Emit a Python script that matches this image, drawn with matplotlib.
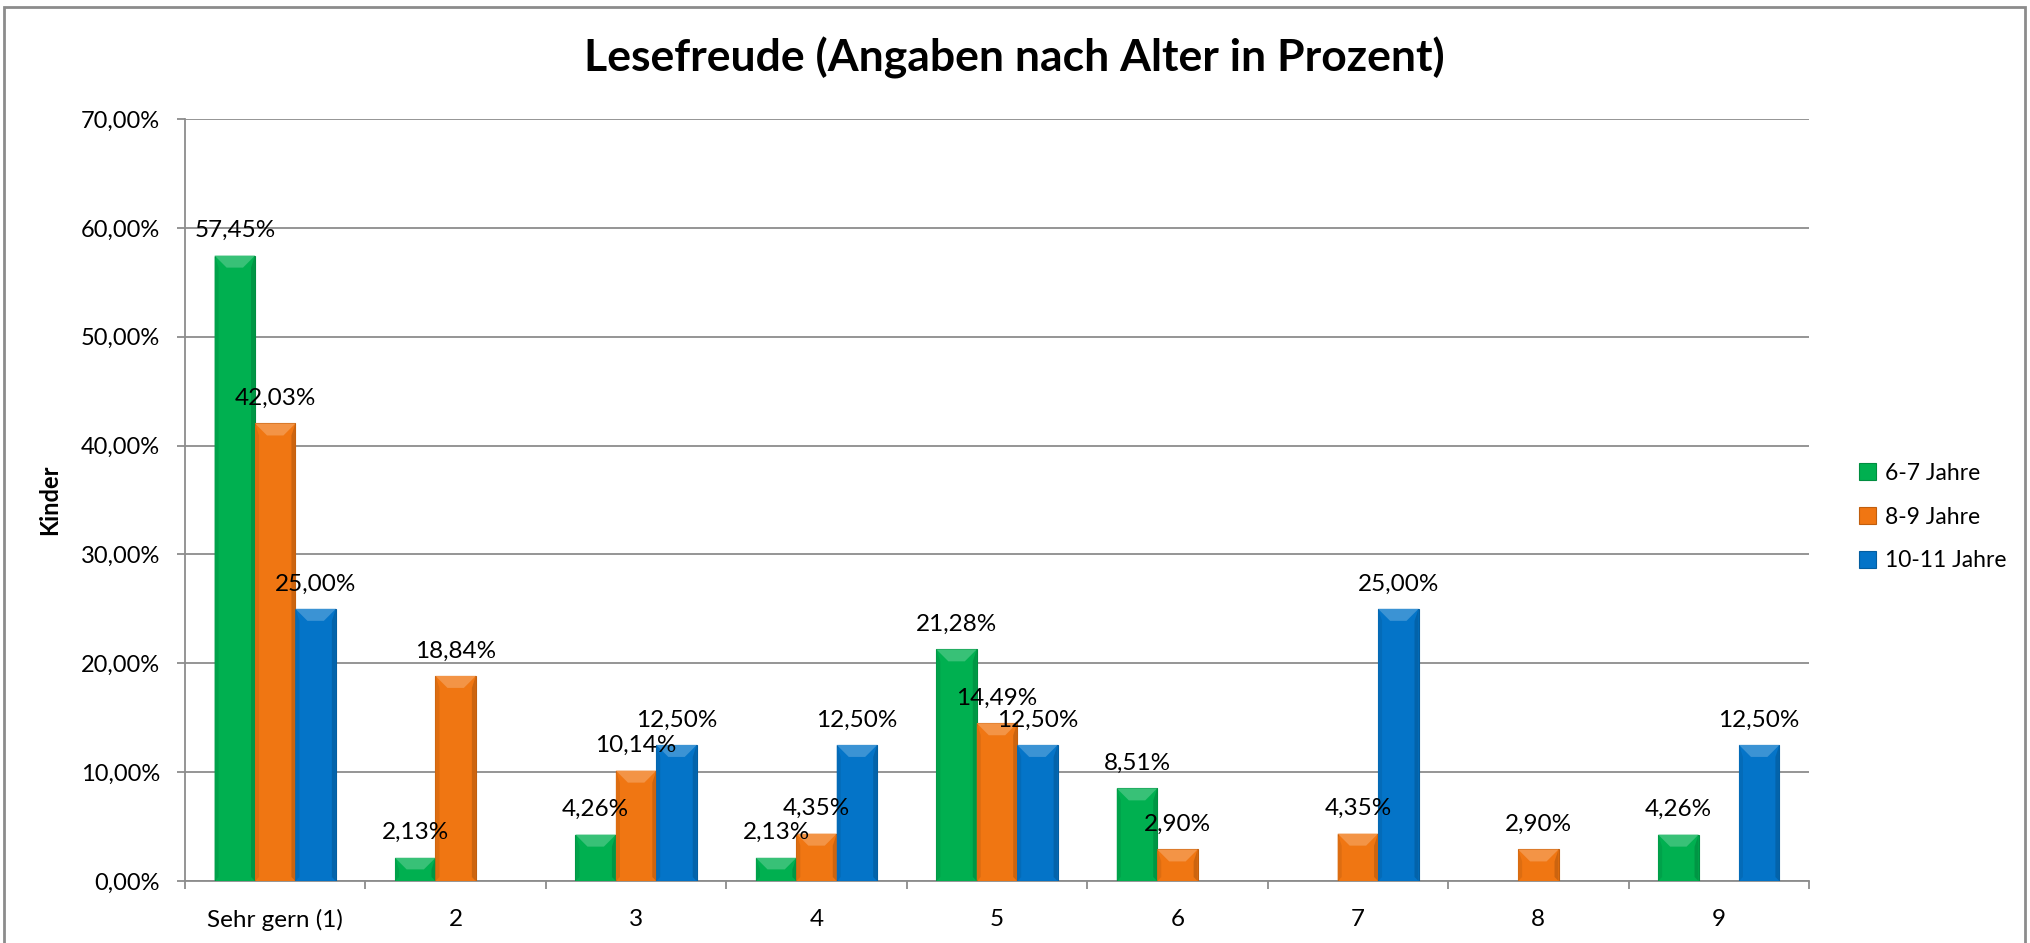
import numpy as np
import matplotlib
matplotlib.use("Agg")
import matplotlib.pyplot as plt
from matplotlib.patches import Polygon, Rectangle
from matplotlib.ticker import FixedLocator, FuncFormatter
import matplotlib.colors as mcolors

plt.rcParams['font.family'] = ['Lato', 'DejaVu Sans']

categories = ["Sehr gern (1)", "2", "3", "4", "5", "6", "7", "8", "9"]
series_names = ["6-7 Jahre", "8-9 Jahre", "10-11 Jahre"]
vals_6_7 = [57.45, 2.13, 4.26, 2.13, 21.28, 8.51, np.nan, np.nan, 4.26]
vals_8_9 = [42.03, 18.84, 10.14, 4.35, 14.49, 2.90, 4.35, 2.90, np.nan]
vals_10_11 = [25.00, np.nan, 12.50, 12.50, 12.50, np.nan, 25.00, np.nan, 12.50]
colors = ["#00B050", "#F07612", "#0474C8"]
title = "Lesefreude (Angaben nach Alter in Prozent)"
ylabel = "Kinder"

W, H = 2031, 943
fig = plt.figure(figsize=(W / 100, H / 100), dpi=100)
ax = fig.add_axes([185 / W, 1 - 881 / H, (1809 - 185) / W, (881 - 119) / H])

series = [vals_6_7, vals_8_9, vals_10_11]
x = np.arange(len(categories))
bw = 0.224
grid_c = "#8C8C8C"

ax.set_xlim(-0.5, len(categories) - 0.5)
ax.set_ylim(0, 70)

def shade(c, f):
    r, g, b = mcolors.to_rgb(c)
    if f > 1:
        return (r + (1 - r) * (f - 1), g + (1 - g) * (f - 1), b + (1 - b) * (f - 1))
    return (r * f, g * f, b * f)

all_bars = []
for i, (vals, c, name) in enumerate(zip(series, colors, series_names)):
    bars = ax.bar(x + (i - 1) * bw, vals, width=bw, color=c,
                  edgecolor=shade(c, 0.8), linewidth=0.8, label=name, zorder=3)
    all_bars.append((bars, vals, c))

# bevel highlight on bar tops + data labels
inv = ax.transData.inverted()
for bars, vals, c in all_bars:
    for rect, v in zip(bars, vals):
        if np.isnan(v) or v == 0:
            continue
        x0, y0 = rect.get_x(), rect.get_y()
        x1, y1 = x0 + rect.get_width(), y0 + rect.get_height()
        (px0, py0) = ax.transData.transform((x0, y0))
        (px1, py1) = ax.transData.transform((x1, y1))
        h = min(12, (py1 - py0) / 2)
        top = [(px0, py1), (px1, py1), (px1 - h, py1 - h), (px0 + h, py1 - h)]
        ax.add_patch(Polygon(inv.transform(top), closed=True, facecolor=shade(c, 1.22),
                             edgecolor='none', zorder=4))
        right = [(px1, py1), (px1, py0), (px1 - 4, py0 + 4), (px1 - 4, py1 - h)]
        ax.add_patch(Polygon(inv.transform(right), closed=True,
                             facecolor=shade(c, 0.85), edgecolor='none', zorder=4))
        left = [(px0, py1), (px0, py0), (px0 + 4, py0 + 4), (px0 + 4, py1 - h)]
        ax.add_patch(Polygon(inv.transform(left), closed=True,
                             facecolor=shade(c, 0.92), edgecolor='none', zorder=4))
        ax.annotate(f"{v:.2f}%".replace(".", ","),
                    xy=(rect.get_x() + rect.get_width() / 2, v),
                    xytext=(0, 18), textcoords="offset points",
                    ha="center", va="center", fontsize=17.5, zorder=6)

# axes styling
ax.set_yticks(np.arange(0, 71, 10))
ax.yaxis.set_major_formatter(FuncFormatter(lambda v, p: f"{v:.2f}%".replace(".", ",")))
ax.grid(axis="y", color=grid_c, linewidth=1.3, zorder=0)
ax.set_axisbelow(True)
for s in ["top", "right"]:
    ax.spines[s].set_visible(False)
for s in ["left", "bottom"]:
    ax.spines[s].set_color(grid_c)
    ax.spines[s].set_linewidth(1.3)
ax.tick_params(axis="y", length=6, width=1.3, color=grid_c, pad=12, labelsize=17)
ax.set_xticks(x)
ax.set_xticklabels(categories)
ax.tick_params(axis="x", which="major", length=0, pad=20, labelsize=17.5)
ax.xaxis.set_minor_locator(FixedLocator(np.arange(-0.5, len(categories), 1.0)))
ax.tick_params(axis="x", which="minor", length=6, width=1.3, color=grid_c, direction="out")
ax.set_ylabel(ylabel, fontsize=17, fontweight="bold", labelpad=14)

fig.text(1014 / W, 1 - 58 / H, title, ha="center", va="center",
         fontsize=32, fontweight="bold")

leg = ax.legend(loc="center left", bbox_to_anchor=(1838 / W, 1 - 517 / H),
                bbox_transform=fig.transFigure, frameon=False, fontsize=16.5,
                handlelength=0.75, handleheight=0.75, handletextpad=0.4,
                labelspacing=1.0)

# outer chart border
fig.patches.append(Rectangle((4 / W, -0.05), (2025 - 4) / W, 1 - 7 / H + 0.05,
                             transform=fig.transFigure, fill=False,
                             edgecolor="#8C8C8C", linewidth=2.0))

fig.savefig("out.png", dpi=100)
